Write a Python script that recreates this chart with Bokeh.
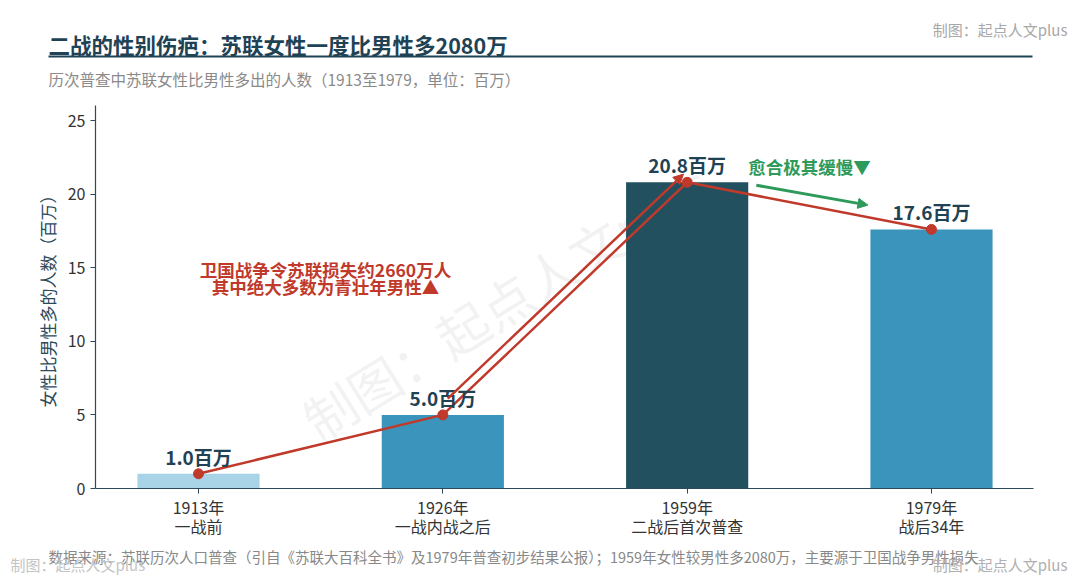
from bokeh.plotting import figure
from bokeh.models import (ColumnDataSource, Label, BoxAnnotation, Arrow, NormalHead,
                          FixedTicker, Range1d)
from bokeh.core.properties import value
from bokeh.embed import file_html
from bokeh.resources import INLINE

# ---- data ----
years = ["1913年", "1926年", "1959年", "1979年"]
periods = ["一战前", "一战内战之后", "二战后首次普查", "战后34年"]
surplus = [1.0, 5.0, 20.8, 17.6]
value_labels = ["1.0百万", "5.0百万", "20.8百万", "17.6百万"]
bar_colors = ["#a9d3e6", "#3a94bb", "#22505f", "#3a94bb"]
y_ticks = [0, 5, 10, 15, 20, 25]

FONT = "Noto Sans CJK SC"
DARK = "#1f4254"
RED = "#c0392b"
GREEN = "#2e9a5a"

W, H = 1072, 575
PX_X = 244.33   # px per category
PX_Y = 14.72    # px per million
X0, Y0 = 198, 488  # pixel position of x=0, y=0

xs = list(range(len(years)))
src = ColumnDataSource(dict(x=xs, top=surplus, color=bar_colors, lab=value_labels))

p = figure(width=W, height=H, output_backend="svg", toolbar_location=None,
           x_range=Range1d(-X0 / PX_X, (W - X0) / PX_X),
           y_range=Range1d(-(H - Y0) / PX_Y, Y0 / PX_Y),
           min_border=0, min_border_left=0, min_border_right=0,
           min_border_top=0, min_border_bottom=0)
p.outline_line_color = None
p.xgrid.visible = False
p.ygrid.visible = False

# big faint watermark (behind bars)
p.add_layout(Label(x=505, y=575 - 300, x_units="screen", y_units="screen", text="制图：起点人文plus",
                   text_font=FONT, text_font_size="52px", text_color="#000000", text_alpha=0.05,
                   angle=32, angle_units="deg", text_align="center", text_baseline="middle",
                   level="underlay"))

p.vbar(x="x", top="top", width=0.5, color="color", source=src, line_color=None)

p.line(x=xs, y=surplus, line_color=RED, line_width=2.5)
p.scatter(x=xs, y=surplus, size=10, color=RED)

p.text(x="x", y="top", text="lab", source=src, text_font=value(FONT), text_font_size="19px",
       text_font_style="bold", text_color=DARK, text_align="center", text_baseline="bottom",
       y_offset=-4)

# arrows
p.add_layout(Arrow(x_start=1.02, y_start=6.1, x_end=1.985, y_end=21.36,
                   line_color=RED, line_width=2.5,
                   end=NormalHead(size=10, fill_color=RED, line_color=RED)))
p.add_layout(Arrow(x_start=2.283, y_start=20.6, x_end=2.74, y_end=19.25,
                   line_color=GREEN, line_width=3,
                   end=NormalHead(size=10, fill_color=GREEN, line_color=GREEN)))

def lab(txt, X, Y, size, color, bold=False, align="left"):
    p.add_layout(Label(x=X, y=H - Y, x_units="screen", y_units="screen", text=txt,
                       text_font=FONT, text_font_size=size,
                       text_font_style="bold" if bold else "normal",
                       text_color=color, text_align=align, text_baseline="middle"))

lab("卫国战争令苏联损失约2660万人", 325, 269, "17.5px", RED, True, "center")
lab("其中绝大多数为青壮年男性▲", 325, 286, "17.5px", RED, True, "center")
lab("愈合极其缓慢▼", 809, 166, "17.5px", GREEN, True, "center")

# axes placed at fixed locations
p.yaxis.fixed_location = (95 - X0) / PX_X
p.xaxis.fixed_location = 0
p.yaxis.bounds = (0, 26)
p.xaxis.bounds = ((95 - X0) / PX_X, (1033 - X0) / PX_X)
p.yaxis.ticker = FixedTicker(ticks=y_ticks)
p.xaxis.ticker = FixedTicker(ticks=xs)
p.xaxis.major_label_overrides = {i: f"{years[i]}\n{periods[i]}" for i in xs}
for ax in (p.xaxis, p.yaxis):
    ax.axis_line_color = "#2c4a5a"
    ax.axis_line_width = 1.2
    ax.major_tick_line_color = "#2c4a5a"
    ax.major_tick_out = 5
    ax.major_tick_in = 0
    ax.minor_tick_line_color = None
    ax.major_label_text_font = FONT
    ax.major_label_text_font_size = "16px"
    ax.major_label_text_color = "#333333"
p.xaxis.major_label_text_line_height = 0.8
p.yaxis.axis_label = "女性比男性多的人数（百万）"
p.yaxis.axis_label_text_font = FONT
p.yaxis.axis_label_text_font_size = "17px"
p.yaxis.axis_label_text_font_style = "normal"
p.yaxis.axis_label_text_color = "#2c4a5a"
p.xaxis.major_label_standoff = 1

# header / footer
lab("二战的性别伤疤：苏联女性一度比男性多2080万", 48, 44, "21.5px", DARK, True)
p.add_layout(BoxAnnotation(left=48, right=1032, bottom=H - 57, top=H - 55, left_units="screen",
                           right_units="screen", top_units="screen", bottom_units="screen",
                           fill_color=DARK, fill_alpha=1, line_color=None))
lab("历次普查中苏联女性比男性多出的人数（1913至1979，单位：百万）", 48, 78, "15.5px", "#8a8a8a")
lab("制图：起点人文plus", 1067, 29, "15px", "#a8a8a8", align="right")
lab("数据来源：苏联历次人口普查（引自《苏联大百科全书》及1979年普查初步结果公报）；1959年女性较男性多2080万，主要源于卫国战争男性损失",
    48, 556, "14.5px", "#888888")
lab("制图：起点人文plus", 10, 564, "15px", "#c4c4c4")
lab("制图：起点人文plus", 1067, 564, "15px", "#b0b0b0", align="right")

open("out.html", "w").write(file_html(p, INLINE))
